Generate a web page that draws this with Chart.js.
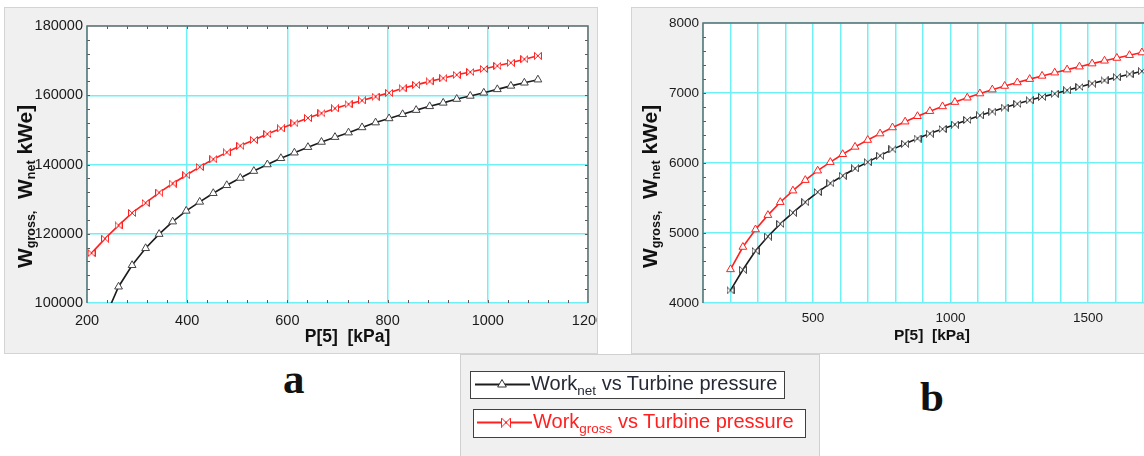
<!DOCTYPE html>
<html>
<head>
<meta charset="utf-8">
<title>Work vs Turbine pressure</title>
<script src="https://cdn.jsdelivr.net/npm/chart.js@4.4.1/dist/chart.umd.min.js"></script>
<style>
  html, body { margin: 0; padding: 0; }
  body { width: 1144px; height: 456px; overflow: hidden; position: relative; background: #fff; font-family: "Liberation Sans", Arial, sans-serif; }
  canvas.panel { position: absolute; background: #f0f0f0; box-shadow: 0 0 0 1px #d4d4d4; }
  #chartA { left: 5px; top: 8px; }
  #chartB { left: 632px; top: 8px; }
  #legendPanel { position: absolute; left: 461px; top: 355px; width: 358px; height: 110px; background: #f0f0f0; box-shadow: 0 0 0 1px #d0d0d0; }
  .lgBox { position: absolute; background: #fff; border: 1.5px solid #404040; box-sizing: border-box; }
  .lgSample { position: absolute; }
  .lgText { position: absolute; font-size: 20px; line-height: 20px; white-space: nowrap; }
  .lgText sub { font-size: 13.5px; vertical-align: -5px; line-height: 0; }
  .tag { position: absolute; font-family: "Liberation Serif", "Times New Roman", serif; font-weight: bold; font-size: 43px; line-height: 43px; color: #111; }
</style>
</head>
<body>
<canvas id="chartA" class="panel" width="592" height="345"></canvas>
<canvas id="chartB" class="panel" width="560" height="345"></canvas>
<div id="legendPanel"></div>
<div class="tag" style="left:283px;top:357px">a</div>
<div class="tag" style="left:920px;top:375px">b</div>
<script>
// ===== Data =====
const pressureA = [209, 236, 263, 290, 317, 344, 371, 398, 425, 452, 479, 506, 533, 560, 587, 614, 641,
  668, 695, 722, 749, 776, 803, 830, 857, 884, 911, 938, 965, 992, 1019, 1046, 1073, 1100];
const netA = [85000, 95800, 104700, 110900, 115800, 119900, 123500, 126600, 129200, 131700, 134000, 136100,
  138100, 140000, 141800, 143400, 145000, 146500, 147900, 149200, 150700, 152100, 153300, 154500, 155700,
  156800, 157800, 158900, 159800, 160700, 161700, 162700, 163600, 164500];
const grossA = [114400, 118600, 122400, 126000, 128900, 131900, 134500, 136900, 139300, 141500, 143500, 145400,
  147100, 148800, 150400, 151900, 153400, 154800, 156200, 157400, 158500, 159600, 160700, 162000, 163000,
  164000, 164900, 165900, 166700, 167600, 168500, 169400, 170400, 171400];

const pressureB = [200, 245, 291, 336, 381, 427, 472, 517, 563, 608, 653, 699, 744, 789, 835, 880, 925, 971,
  1016, 1061, 1107, 1152, 1197, 1243, 1288, 1333, 1379, 1424, 1469, 1515, 1560, 1605, 1651, 1696, 1741];
const netB = [4180, 4475, 4745, 4950, 5130, 5290, 5440, 5585, 5710, 5818, 5922, 6012, 6105, 6195, 6275, 6350,
  6420, 6485, 6550, 6615, 6680, 6735, 6792, 6845, 6895, 6945, 6990, 7038, 7085, 7135, 7180, 7225, 7268, 7310, 7350];
const grossB = [4480, 4800, 5050, 5255, 5440, 5605, 5755, 5890, 6012, 6125, 6230, 6328, 6420, 6507, 6590, 6668,
  6740, 6808, 6870, 6932, 6992, 7048, 7100, 7150, 7198, 7244, 7290, 7334, 7376, 7420, 7460, 7500, 7540, 7578, 7612];

const xLabelsB = [500, 1000, 1500];
const xTitle = "P[5]  [kPa]";
const legendLabels = [
  ["Work", "net", " vs Turbine pressure"],
  ["Work", "gross", " vs Turbine pressure"]
];

// ===== Styles =====
const FONT = "'Liberation Sans', Arial, sans-serif";
const CYAN = "#6ff0f5";
const BLACK = "#1c1c1c";
const RED = "#ff2020";

function bowtie(color, size) {
  const c = document.createElement("canvas");
  c.width = size; c.height = size;
  const g = c.getContext("2d");
  g.strokeStyle = color; g.fillStyle = "#fff"; g.lineWidth = 1;
  g.beginPath();
  g.moveTo(0.5, 0.5); g.lineTo(size - 0.5, size - 0.5);
  g.lineTo(size - 0.5, 0.5); g.lineTo(0.5, size - 0.5);
  g.closePath();
  g.fill(); g.stroke();
  return c;
}

function triangle(g, x, y, r, color) {
  g.beginPath();
  g.moveTo(x, y - r);
  g.lineTo(x + r * 0.866, y + r / 2);
  g.lineTo(x - r * 0.866, y + r / 2);
  g.closePath();
  g.fillStyle = "#fff"; g.fill();
  g.strokeStyle = color; g.lineWidth = 1; g.stroke();
}

function drawRuns(ctx, runs) {
  let cx = 0;
  runs.forEach(([t, size, dy]) => {
    ctx.font = `bold ${size}px ${FONT}`;
    ctx.fillText(t, cx, dy);
    cx += ctx.measureText(t).width;
  });
}

const yTitleRuns = [["W", 21, 0], ["gross,", 12.5, 3], ["  W", 21, 0], ["net", 12.5, 3], [" kWe]", 21, 0]];

// ===== Panel decoration plugin: plot background, border, minor ticks, titles =====
const deco = {
  id: "deco",
  beforeDraw(chart) {
    const { ctx, chartArea: a } = chart;
    ctx.save();
    ctx.fillStyle = "#fff";
    ctx.fillRect(a.left, a.top, a.right - a.left, a.bottom - a.top);
    ctx.restore();
  },
  beforeDatasetsDraw(chart, args, o) {
    const { ctx, chartArea: a, scales: { x, y } } = chart;
    ctx.save();
    ctx.strokeStyle = "#5a5a5a";
    ctx.lineWidth = 1;
    ctx.beginPath();
    if (o.minorX) {
      for (let v = x.min + o.minorX; v < x.max; v += o.minorX) {
        const px = Math.round(x.getPixelForValue(v)) + 0.5;
        ctx.moveTo(px, a.top); ctx.lineTo(px, a.top + 3);
        ctx.moveTo(px, a.bottom); ctx.lineTo(px, a.bottom - 3);
      }
    }
    if (o.minorY) {
      for (let v = y.min + o.minorY; v < y.max; v += o.minorY) {
        const py = Math.round(y.getPixelForValue(v)) + 0.5;
        ctx.moveTo(a.left, py); ctx.lineTo(a.left + 3, py);
        ctx.moveTo(a.right, py); ctx.lineTo(a.right - 3, py);
      }
    }
    ctx.stroke();
    ctx.strokeStyle = "#6c6c6c";
    ctx.lineWidth = 1.5;
    ctx.beginPath();
    ctx.moveTo(a.left, a.bottom); ctx.lineTo(a.left, a.top);
    ctx.lineTo(a.right, a.top); ctx.lineTo(a.right, a.bottom);
    ctx.stroke();
    ctx.restore();
  },
  afterDraw(chart, args, o) {
    const { ctx } = chart;
    ctx.save();
    ctx.fillStyle = "#111";
    ctx.textBaseline = "alphabetic";
    ctx.translate(o.yTitleAt[0], o.yTitleAt[1]);
    ctx.rotate(-Math.PI / 2);
    drawRuns(ctx, yTitleRuns);
    ctx.restore();

    ctx.save();
    ctx.fillStyle = "#111";
    ctx.font = `bold ${o.xTitleSize}px ${FONT}`;
    ctx.textAlign = "center";
    ctx.textBaseline = "middle";
    ctx.fillText(xTitle, o.xTitleAt[0], o.xTitleAt[1]);
    ctx.restore();
  }
};

// ===== Chart builder =====
function makeChart(id, s) {
  const pts = (xs, ys) => xs.map((x, i) => ({ x, y: ys[i] }));
  return new Chart(document.getElementById(id), {
    type: "scatter",
    data: {
      datasets: [
        {
          label: "Work net", data: pts(s.px, s.net), showLine: true,
          borderColor: BLACK, borderWidth: 1.6,
          pointStyle: s.netMarker, pointRadius: 4.5, pointBorderColor: "#444",
          pointBackgroundColor: "#fff", pointBorderWidth: 1
        },
        {
          label: "Work gross", data: pts(s.px, s.gross), showLine: true,
          borderColor: RED, borderWidth: 1.6,
          pointStyle: s.grossMarker, pointRadius: 4.5, pointBorderColor: RED,
          pointBackgroundColor: "#fff", pointBorderWidth: 1
        }
      ]
    },
    options: {
      responsive: false,
      animation: false,
      events: [],
      layout: { padding: s.padding },
      scales: {
        x: {
          type: "linear", min: s.xMin, max: s.xMax,
          border: { display: false },
          grid: { color: CYAN, lineWidth: 1.5, drawTicks: false },
          ticks: {
            stepSize: s.xStep, autoSkip: false, maxRotation: 0, padding: s.xPad,
            color: "#1a1a1a", font: { family: FONT, size: s.tickSize },
            callback: s.xLabel
          },
          afterFit: sc => { sc.height = s.xHeight; sc.paddingLeft = 0; sc.paddingRight = 0; }
        },
        y: {
          type: "linear", min: s.yMin, max: s.yMax,
          border: { display: false },
          grid: { color: CYAN, lineWidth: 1.5, drawTicks: false },
          ticks: {
            stepSize: s.yStep, padding: 4,
            color: "#1a1a1a", font: { family: FONT, size: s.tickSize },
            callback: v => String(v)
          },
          afterFit: sc => { sc.width = s.yWidth; sc.paddingTop = 0; sc.paddingBottom = 0; }
        }
      },
      plugins: {
        legend: { display: false },
        tooltip: { enabled: false },
        deco: s.deco
      }
    },
    plugins: [deco]
  });
}

document.addEventListener("DOMContentLoaded", () => {
  // ===== Chart a =====
  makeChart("chartA", {
    px: pressureA, net: netA, gross: grossA,
    netMarker: "triangle", grossMarker: bowtie(RED, 8),
    xMin: 200, xMax: 1200, xStep: 200, yMin: 100000, yMax: 180000, yStep: 20000,
    xLabel: v => String(v), tickSize: 14.5, xPad: 9,
    padding: { left: 0, right: 9, top: 18, bottom: 0 }, yWidth: 82, xHeight: 50,
    deco: { minorX: 40, minorY: 4000, yTitleAt: [27, 260], xTitleAt: [342.5, 329], xTitleSize: 17.5 }
  });

  // ===== Chart b =====
  makeChart("chartB", {
    px: pressureB, net: netB, gross: grossB,
    netMarker: bowtie("#444", 8), grossMarker: "triangle",
    xMin: 100, xMax: 1800, xStep: 100, yMin: 4000, yMax: 8000, yStep: 1000,
    xLabel: v => (xLabelsB.includes(v) ? String(v) : ""), tickSize: 13.5, xPad: 7,
    padding: { left: 0, right: 21.5, top: 15, bottom: 0 }, yWidth: 71, xHeight: 50,
    deco: { minorY: 200, yTitleAt: [25, 260], xTitleAt: [300, 328], xTitleSize: 15.5 }
  });

  // ===== Legend =====
  const boxes = [
    { left: 470, top: 371, width: 315, height: 28, lineX: 474, textX: 531, color: "#262a36", marker: "triangle" },
    { left: 473, top: 409, width: 333, height: 29, lineX: 476, textX: 533, color: RED, marker: "bowtie" }
  ];
  boxes.forEach((b, i) => {
    const box = document.createElement("div");
    box.className = "lgBox";
    Object.assign(box.style, { left: b.left + "px", top: b.top + "px", width: b.width + "px", height: b.height + "px" });
    document.body.appendChild(box);

    const c = document.createElement("canvas");
    c.className = "lgSample";
    c.width = 58; c.height = 24;
    Object.assign(c.style, { left: b.lineX + "px", top: (b.top + 1) + "px" });
    const g = c.getContext("2d");
    const lineColor = i === 0 ? BLACK : RED;
    g.strokeStyle = lineColor; g.lineWidth = 2;
    g.beginPath(); g.moveTo(1, 12.5); g.lineTo(56, 12.5); g.stroke();
    if (b.marker === "triangle") triangle(g, 28, 12.5, 5, "#333");
    else g.drawImage(bowtie(RED, 10), 25, 7.5);
    document.body.appendChild(c);

    const t = document.createElement("div");
    t.className = "lgText";
    t.style.left = b.textX + "px";
    t.style.top = (b.top + 2) + "px";
    t.style.color = b.color;
    const [main, sub, rest] = legendLabels[i];
    t.append(main);
    const s = document.createElement("sub");
    s.textContent = sub;
    t.append(s, rest);
    document.body.appendChild(t);
  });
});
</script>
</body>
</html>
